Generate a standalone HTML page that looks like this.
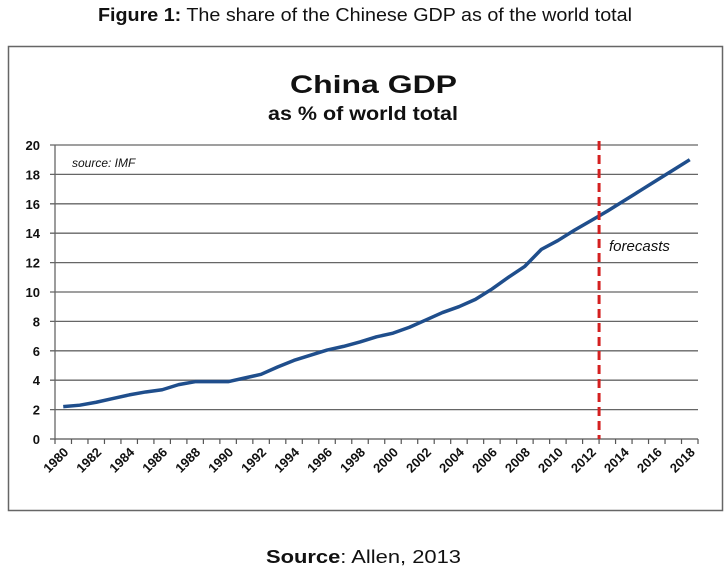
<!DOCTYPE html>
<html><head><meta charset="utf-8"><style>
body{margin:0;background:#fff;width:728px;height:573px;overflow:hidden;font-family:"Liberation Sans",sans-serif}
</style></head><body>
<svg width="728" height="573">
<text x="98" y="21" font-size="18" fill="#111" textLength="534" lengthAdjust="spacingAndGlyphs"><tspan font-weight="bold">Figure 1:</tspan> The share of the Chinese GDP as of the world total</text>
<rect x="8.5" y="46.5" width="714" height="464" fill="#fff" stroke="#666" stroke-width="1.5"/>
<text x="290" y="93" font-size="25" font-weight="bold" fill="#111" textLength="167" lengthAdjust="spacingAndGlyphs">China GDP</text>
<text x="268" y="120" font-size="19" font-weight="bold" fill="#111" textLength="190" lengthAdjust="spacingAndGlyphs">as % of world total</text>
<g id="grid"></g><g id="yl"></g><g id="xl"></g>
<text x="72" y="167" font-size="12" font-style="italic" fill="#111">source: IMF</text>
<text x="609" y="251" font-size="15" font-style="italic" fill="#111">forecasts</text>
<path id="line" fill="none" stroke="#1f4e8c" stroke-width="3.5" stroke-linejoin="round"/>
<line id="fc" stroke="#d42020" stroke-width="3" stroke-dasharray="9,5"/>
<text x="266" y="563" font-size="18" fill="#111" textLength="195" lengthAdjust="spacingAndGlyphs"><tspan font-weight="bold">Source</tspan>: Allen, 2013</text>
</svg>
<script>
const years=[1980,1981,1982,1983,1984,1985,1986,1987,1988,1989,1990,1991,1992,1993,1994,1995,1996,1997,1998,1999,2000,2001,2002,2003,2004,2005,2006,2007,2008,2009,2010,2011,2012,2013,2014,2015,2016,2017,2018];
const share=[2.2,2.3,2.5,2.75,3.0,3.2,3.35,3.7,3.9,3.9,3.9,4.15,4.4,4.9,5.35,5.7,6.05,6.3,6.6,6.95,7.2,7.6,8.1,8.6,9.0,9.5,10.2,11.0,11.75,12.9,13.5,14.2,14.85,15.5,16.2,16.9,17.6,18.3,19.0];
const yTicks=[0,2,4,6,8,10,12,14,16,18,20];
const forecastStart=2013;
const NS="http://www.w3.org/2000/svg";
const x0=55,x1=698,yb=439,yt=145;
const step=(x1-x0)/years.length;
const X=i=>x0+step*(i+0.5);
const Y=v=>yb-(v/20)*(yb-yt);
function mk(t,a,p){const e=document.createElementNS(NS,t);for(const k in a)e.setAttribute(k,a[k]);document.getElementById(p).appendChild(e);return e;}
yTicks.forEach(v=>{
 const l=mk('line',{x1:x0-5,x2:x1,y1:Y(v),y2:Y(v),stroke:v===0?'#555':'#666','stroke-width':1.3},'grid');
 
 
 const t=mk('text',{x:40,y:Y(v)+5,'text-anchor':'end','font-size':13,'font-weight':'bold',fill:'#111'},'yl');
 t.textContent=v;
 
 
});
const ax=mk('line',{x1:x0,x2:x0,y1:yt,y2:yb,stroke:'#666','stroke-width':1.3},'grid');


for(let i=0;i<=years.length;i++){
 const tk=mk('line',{x1:x0+step*i,x2:x0+step*i,y1:yb,y2:yb+5,stroke:'#555','stroke-width':1.2},'grid');
 
 
}
years.forEach((y,i)=>{
 if(i%2)return;
 const cx=X(i)+6,cy=yb+14;
 const t=mk('text',{x:cx,y:cy,'text-anchor':'end','font-size':13,'font-weight':'bold',fill:'#111',transform:`rotate(-45 ${cx} ${cy})`},'xl');
 t.textContent=y;
 
 
});
document.getElementById('line').setAttribute('d',share.map((v,i)=>(i?'L':'M')+X(i)+','+Y(v)).join(''));
const fx=x0+step*years.indexOf(forecastStart);
const fc=document.getElementById('fc');
fc.setAttribute('x1',fx);fc.setAttribute('x2',fx);fc.setAttribute('y1',yt-4);fc.setAttribute('y2',yb);
</script>
</body></html>
